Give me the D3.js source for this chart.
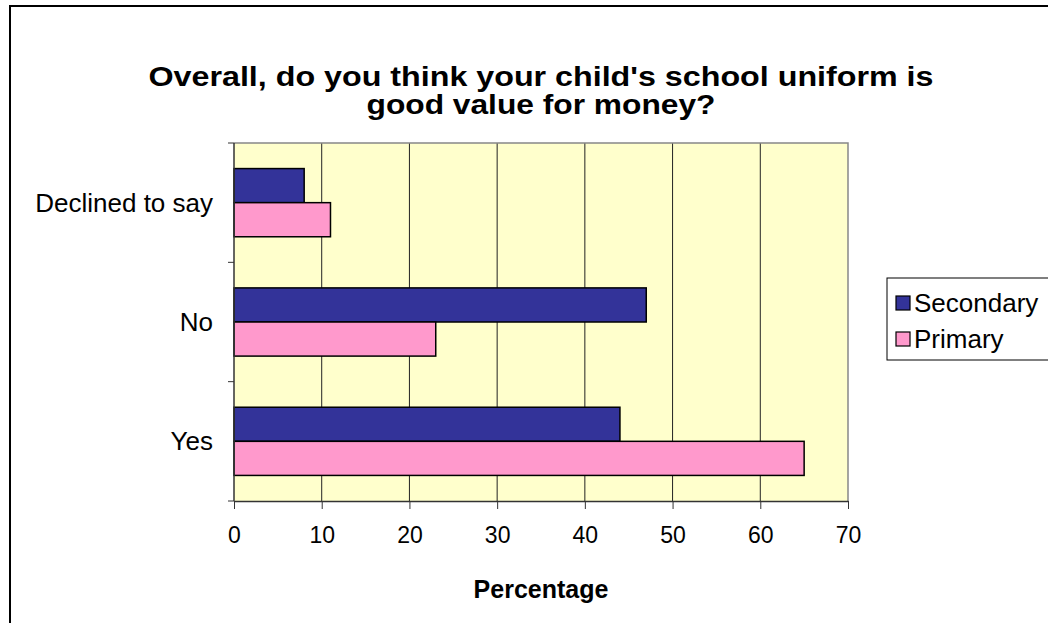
<!DOCTYPE html>
<html><head><meta charset="utf-8">
<script src="https://cdn.jsdelivr.net/npm/d3@7"></script>
<style>
html,body{margin:0;padding:0;background:#fff;overflow:hidden}
svg{display:block;font-family:"Liberation Sans",Arial,sans-serif}
</style></head>
<body>
<svg id="c" width="1048" height="623"></svg>
<script>
const categories = ["Declined to say", "No", "Yes"];
const seriesNames = ["Secondary", "Primary"];
const secondaryValues = [8, 47, 44];
const primaryValues = [11, 23, 65];
const xTicks = [0, 10, 20, 30, 40, 50, 60, 70];
const titleLines = ["Overall, do you think your child's school uniform is", "good value for money?"];
const xAxisTitle = "Percentage";
const colors = {Secondary: "#333399", Primary: "#FF99CC"};

const svg = d3.select("#c");
// outer chart border
svg.append("rect").attr("x", 10).attr("y", 6).attr("width", 1100).attr("height", 700)
  .attr("fill", "#fff").attr("stroke", "#000").attr("stroke-width", 2);

const pL = 234, pR = 848, pT = 143, pB = 501;
const x = d3.scaleLinear().domain([0, 70]).range([pL, pR]);
const y = d3.scaleBand().domain(categories).range([pT, pB]).paddingInner(0).paddingOuter(0);
const inner = d3.scaleBand().domain(seriesNames).range([0, y.bandwidth()]).paddingInner(0).paddingOuter(0.75);

// plot area
svg.append("rect").attr("x", pL).attr("y", pT).attr("width", pR - pL).attr("height", pB - pT)
  .attr("fill", "#FFFFCC");

// gridlines
svg.append("g").selectAll("line").data(xTicks.slice(1, -1)).join("line")
  .attr("x1", d => x(d)).attr("x2", d => x(d)).attr("y1", pT).attr("y2", pB)
  .attr("stroke", "#222").attr("stroke-width", 1);

// plot border top/right
svg.append("path").attr("d", `M${pL},${pT}H${pR}V${pB}`)
  .attr("fill", "none").attr("stroke", "#888").attr("stroke-width", 1.5);

// bars
const data = [];
categories.forEach((c, i) => {
  data.push({cat: c, s: "Secondary", v: secondaryValues[i]});
  data.push({cat: c, s: "Primary", v: primaryValues[i]});
});
svg.append("g").selectAll("rect").data(data).join("rect")
  .attr("x", x(0)).attr("y", d => y(d.cat) + inner(d.s))
  .attr("width", d => x(d.v) - x(0)).attr("height", inner.bandwidth())
  .attr("fill", d => colors[d.s]).attr("stroke", "#000").attr("stroke-width", 1.5);

// x axis
const xa = svg.append("g").attr("transform", `translate(0,${pB})`)
  .call(d3.axisBottom(x).tickValues(xTicks).tickSize(8).tickPadding(18).tickSizeOuter(0));
xa.select(".domain").attr("stroke", "#333").attr("stroke-width", 1.5);
xa.selectAll(".tick line").attr("stroke", "#333");
xa.selectAll("text").attr("font-size", 23).attr("font-family", "Liberation Sans, Arial, sans-serif").attr("fill", "#000");

// y axis
const ya = svg.append("g").attr("transform", `translate(${pL},0)`);
ya.append("line").attr("x1", 0).attr("x2", 0).attr("y1", pT).attr("y2", pB).attr("stroke", "#333").attr("stroke-width", 1.5);
const bounds = categories.map(c => y(c)).concat([pB]);
ya.selectAll("line.t").data(bounds).join("line").attr("class", "t")
  .attr("x1", -6).attr("x2", 0).attr("y1", d => d).attr("y2", d => d).attr("stroke", "#333");
ya.selectAll("text").data(categories).join("text")
  .attr("x", -21).attr("y", d => y(d) + y.bandwidth() / 2).attr("dy", "0.35em")
  .attr("text-anchor", "end").attr("font-size", 26).text(d => d);

// title (stretched horizontally like the reference)
const titleWidths = [785, 349];
svg.append("g").selectAll("text").data(titleLines).join("text")
  .attr("x", 541).attr("y", (d, i) => 86 + i * 28).attr("text-anchor", "middle")
  .attr("font-size", 28).attr("font-weight", "bold")
  .attr("textLength", (d, i) => titleWidths[i]).attr("lengthAdjust", "spacingAndGlyphs")
  .text(d => d);

// axis title
svg.append("text").attr("x", 541).attr("y", 598).attr("text-anchor", "middle")
  .attr("font-size", 25).attr("font-weight", "bold").text(xAxisTitle);

// legend
const lg = svg.append("g");
lg.append("rect").attr("x", 887).attr("y", 278).attr("width", 200).attr("height", 82)
  .attr("fill", "#fff").attr("stroke", "#000").attr("stroke-width", 1);
seriesNames.forEach((s, i) => {
  const cy = 303 + i * 36;
  lg.append("rect").attr("x", 896).attr("y", cy - 7).attr("width", 14).attr("height", 14)
    .attr("fill", colors[s]).attr("stroke", "#000").attr("stroke-width", 1.2);
  lg.append("text").attr("x", 914).attr("y", cy).attr("dy", "0.35em").attr("font-size", 26).text(s);
});
</script>
</body></html>
